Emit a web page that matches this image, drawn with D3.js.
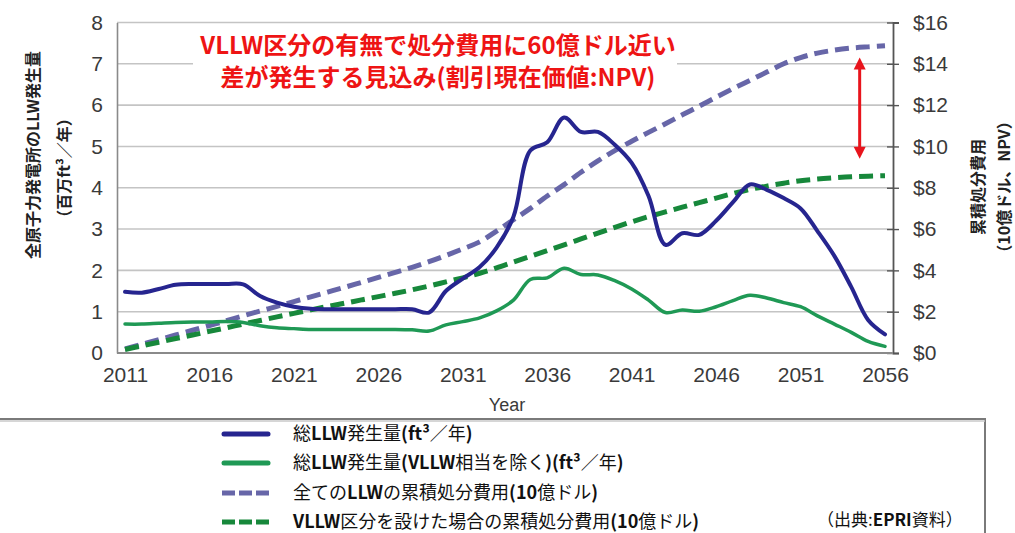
<!DOCTYPE html>
<html>
<head>
<meta charset="utf-8">
<script src="https://cdn.jsdelivr.net/npm/d3@7/dist/d3.min.js"></script>
<style>
  html, body { margin: 0; padding: 0; background: #fff; }
  svg { display: block; }
</style>
</head>
<body>
<script>
// Years on the category axis
const years = d3.range(2011, 2057);
const xTickYears = [2011, 2016, 2021, 2026, 2031, 2036, 2041, 2046, 2051, 2056];

// Annual LLW generation, all plants (million ft3 / year)
const totalLLW = [1.48, 1.46, 1.55, 1.65, 1.67, 1.67, 1.67, 1.66, 1.38, 1.22,
                  1.12, 1.07, 1.06, 1.06, 1.06, 1.06, 1.06, 1.06, 0.98, 1.50,
                  1.80, 2.08, 2.55, 3.30, 4.90, 5.10, 5.70, 5.35, 5.35, 5.04,
                  4.60, 3.80, 2.62, 2.90, 2.86, 3.20, 3.65, 4.08, 3.95, 3.75,
                  3.50, 2.95, 2.35, 1.60, 0.80, 0.45];

// Annual LLW generation excluding VLLW-equivalent waste (million ft3 / year)
const totalLLWexVLLW = [0.70, 0.70, 0.72, 0.74, 0.75, 0.75, 0.76, 0.74, 0.66, 0.61,
                        0.59, 0.57, 0.57, 0.57, 0.57, 0.57, 0.57, 0.56, 0.53, 0.68,
                        0.76, 0.85, 1.02, 1.28, 1.78, 1.82, 2.05, 1.90, 1.89, 1.75,
                        1.55, 1.28, 0.98, 1.04, 1.01, 1.12, 1.27, 1.40, 1.33, 1.22,
                        1.12, 0.90, 0.70, 0.50, 0.28, 0.16];

// Cumulative disposal cost, all LLW (billion USD, NPV)
const costAllLLW = [0.20, 0.42, 0.64, 0.87, 1.10, 1.33, 1.56, 1.80, 2.03, 2.26,
                    2.49, 2.72, 2.95, 3.18, 3.42, 3.66, 3.90, 4.15, 4.42, 4.72,
                    5.04, 5.38, 5.90, 6.45, 7.00, 7.60, 8.15, 8.75, 9.30, 9.80,
                    10.25, 10.68, 11.10, 11.53, 11.95, 12.38, 12.80, 13.20, 13.60, 14.00,
                    14.30, 14.52, 14.66, 14.76, 14.82, 14.87];

// Cumulative disposal cost with a VLLW category (billion USD, NPV)
const costWithVLLW = [0.17, 0.35, 0.52, 0.70, 0.87, 1.05, 1.22, 1.40, 1.57, 1.75,
                      1.92, 2.09, 2.25, 2.41, 2.57, 2.73, 2.89, 3.06, 3.24, 3.44,
                      3.64, 3.86, 4.12, 4.40, 4.68, 4.96, 5.24, 5.52, 5.80, 6.08,
                      6.35, 6.60, 6.83, 7.06, 7.28, 7.50, 7.72, 7.92, 8.08, 8.22,
                      8.34, 8.42, 8.48, 8.53, 8.56, 8.58];

const leftTicks = [0, 1, 2, 3, 4, 5, 6, 7, 8];
const rightTicks = [0, 2, 4, 6, 8, 10, 12, 14, 16];

const legendLabels = [
  "総LLW発生量(ft³／年)",
  "総LLW発生量(VLLW相当を除く)(ft³／年)",
  "全てのLLWの累積処分費用(10億ドル)",
  "VLLW区分を設けた場合の累積処分費用(10億ドル)"
];
const noteLines = [
  "VLLW区分の有無で処分費用に60億ドル近い",
  "差が発生する見込み(割引現在価値:NPV)"
];
const leftTitle = ["全原子力発電所のLLW発生量", "（百万ft³／年）"];
const rightTitle = ["累積処分費用", "（10億ドル、NPV）"];
const sourceNote = "（出典:EPRI資料）";
const xTitle = "Year";

// ---- layout ----
const W = 1015, H = 533;
const plot = { left: 117, right: 893, top: 22.5, bottom: 353 };

const svg = d3.select("body").append("svg")
  .attr("width", W).attr("height", H)
  .style("font-family", "Arial, 'Liberation Sans', sans-serif");

svg.append("rect").attr("width", W).attr("height", H).attr("fill", "#fff");

const x = d3.scaleLinear().domain([2011, 2056]).range([125, 885]);
const yL = d3.scaleLinear().domain([0, 8]).range([plot.bottom, plot.top]);
const yR = d3.scaleLinear().domain([0, 16]).range([plot.bottom, plot.top]);

const tickColor = "#3a3a3a";
const jp = "'Noto Sans CJK JP', 'Noto Sans', sans-serif";

// horizontal gridlines
svg.append("g").selectAll("line")
  .data(leftTicks.filter(d => d > 0))
  .join("line")
  .attr("x1", plot.left).attr("x2", plot.right)
  .attr("y1", d => yL(d)).attr("y2", d => yL(d))
  .attr("stroke", "#c4c4c4").attr("stroke-width", 1.6);

// left axis
const gL = svg.append("g").attr("transform", `translate(${plot.left},0)`)
  .call(d3.axisLeft(yL).tickValues(leftTicks).tickSize(0).tickPadding(14).tickFormat(d3.format("d")));
gL.select(".domain").attr("stroke", "#8a8a8a").attr("stroke-width", 1.6);
gL.selectAll("text").attr("font-size", 21).attr("fill", tickColor)
  .attr("font-family", "Arial, 'Liberation Sans', sans-serif");

// right axis
const gR = svg.append("g").attr("transform", `translate(${plot.right},0)`)
  .call(d3.axisRight(yR).tickValues(rightTicks).tickSize(6).tickPadding(14).tickFormat(d => "$" + d));
gR.select(".domain").attr("stroke", "#555").attr("stroke-width", 1.8);
gR.selectAll(".tick line").attr("x1", -6).attr("stroke", "#555").attr("stroke-width", 1.4);
gR.selectAll("text").attr("font-size", 21).attr("fill", tickColor)
  .attr("font-family", "Arial, 'Liberation Sans', sans-serif");

// bottom axis
const gB = svg.append("g").attr("transform", `translate(0,${plot.bottom})`)
  .call(d3.axisBottom(x).tickValues(xTickYears).tickSize(0).tickPadding(14).tickFormat(d3.format("d")));
gB.select(".domain").remove();
svg.append("line").attr("x1", plot.left).attr("x2", plot.right)
  .attr("y1", plot.bottom).attr("y2", plot.bottom)
  .attr("stroke", "#8a8a8a").attr("stroke-width", 1.8);
gB.selectAll("text").attr("font-size", 21).attr("fill", tickColor)
  .attr("font-family", "Arial, 'Liberation Sans', sans-serif");

svg.append("text").attr("x", 507).attr("y", 411).attr("text-anchor", "middle")
  .attr("font-size", 18).attr("fill", tickColor).text(xTitle);

// series
const series = [
  { values: totalLLW, scale: yL, color: "#26258f", width: 4, dash: null },
  { values: totalLLWexVLLW, scale: yL, color: "#1f9955", width: 3.5, dash: null },
  { values: costAllLLW, scale: yR, color: "#6766a8", width: 5, dash: "14,7" },
  { values: costWithVLLW, scale: yR, color: "#17883b", width: 5, dash: "14,7" }
];

// draw dashed cost curves first, production curves above
[2, 3, 0, 1].forEach(i => {
  const s = series[i];
  const line = d3.line().curve(d3.curveCatmullRom.alpha(0.5))
    .x((d, j) => x(years[j])).y(d => s.scale(d));
  svg.append("path").datum(s.values)
    .attr("d", line).attr("fill", "none")
    .attr("stroke", s.color).attr("stroke-width", s.width)
    .attr("stroke-linejoin", "round").attr("stroke-linecap", s.dash ? "butt" : "round")
    .attr("stroke-dasharray", s.dash);
});

// annotation box and text
svg.append("rect").attr("x", 193).attr("y", 27).attr("width", 484).attr("height", 70).attr("fill", "#fff");
svg.append("g").selectAll("text").data(noteLines).join("text")
  .attr("x", 438).attr("y", (d, i) => 54 + i * 32)
  .attr("text-anchor", "middle")
  .attr("font-family", jp).attr("font-weight", "bold").attr("font-size", 24)
  .attr("fill", "#ee1414").text(d => d);

// double-headed arrow marking the cost gap
const ax = x(2054.5);
const arrowTop = yR(14.3), arrowBot = yR(9.4);
svg.append("line").attr("x1", ax).attr("x2", ax).attr("y1", arrowTop + 10).attr("y2", arrowBot - 10)
  .attr("stroke", "#e8141c").attr("stroke-width", 3);
svg.append("path")
  .attr("d", `M${ax},${arrowTop} L${ax - 6},${arrowTop + 12} L${ax + 6},${arrowTop + 12} Z`)
  .attr("fill", "#e8141c");
svg.append("path")
  .attr("d", `M${ax},${arrowBot} L${ax - 6},${arrowBot - 12} L${ax + 6},${arrowBot - 12} Z`)
  .attr("fill", "#e8141c");

// axis titles (rotated)
function vTitle(lines, cx, cys) {
  lines.forEach((t, i) => {
    svg.append("text")
      .attr("transform", `translate(${cx[i]},${cys[i]}) rotate(-90)`)
      .attr("text-anchor", "middle").attr("dominant-baseline", "central")
      .attr("font-family", jp).attr("font-weight", "bold").attr("font-size", 16)
      .attr("fill", "#222").text(t);
  });
}
vTitle(leftTitle, [32, 63], [155, 168]);
vTitle(rightTitle, [977, 1003], [187, 187]);

// legend
svg.append("rect").attr("x", -5).attr("y", 419).attr("width", 990).attr("height", 130)
  .attr("fill", "#fff").attr("stroke", "#7a7a7a").attr("stroke-width", 2);
svg.append("line").attr("x1", 0).attr("x2", 985).attr("y1", 421).attr("y2", 421)
  .attr("stroke", "#c8c8c8").attr("stroke-width", 1.5);

// Latin runs in bold, Japanese in regular weight
function mixedText(t, str) {
  str.match(/[A-Za-z0-9()³]+|[^A-Za-z0-9()³]+/g).forEach(run => {
    const isLatin = /^[A-Za-z0-9()³]+$/.test(run);
    t.append("tspan").attr("font-weight", isLatin ? "bold" : "normal").text(run);
  });
}

const legendY = [434, 463, 493, 522];
series.forEach((s, i) => {
  const g = svg.append("g");
  if (s.dash) {
    g.append("line").attr("x1", 222).attr("x2", 270).attr("y1", legendY[i]).attr("y2", legendY[i])
      .attr("stroke", s.color).attr("stroke-width", 5).attr("stroke-dasharray", "13,4");
  } else {
    g.append("line").attr("x1", 224).attr("x2", 268).attr("y1", legendY[i]).attr("y2", legendY[i])
      .attr("stroke", s.color).attr("stroke-width", 5).attr("stroke-linecap", "round");
  }
  const t = g.append("text").attr("x", 293).attr("y", legendY[i] + 6)
    .attr("font-family", jp).attr("font-size", 18).attr("fill", "#111");
  mixedText(t, legendLabels[i]);
});

const src = svg.append("text").attr("x", 817).attr("y", 526)
  .attr("font-family", jp).attr("font-size", 17).attr("fill", "#111");
mixedText(src, sourceNote);
</script>
</body>
</html>
